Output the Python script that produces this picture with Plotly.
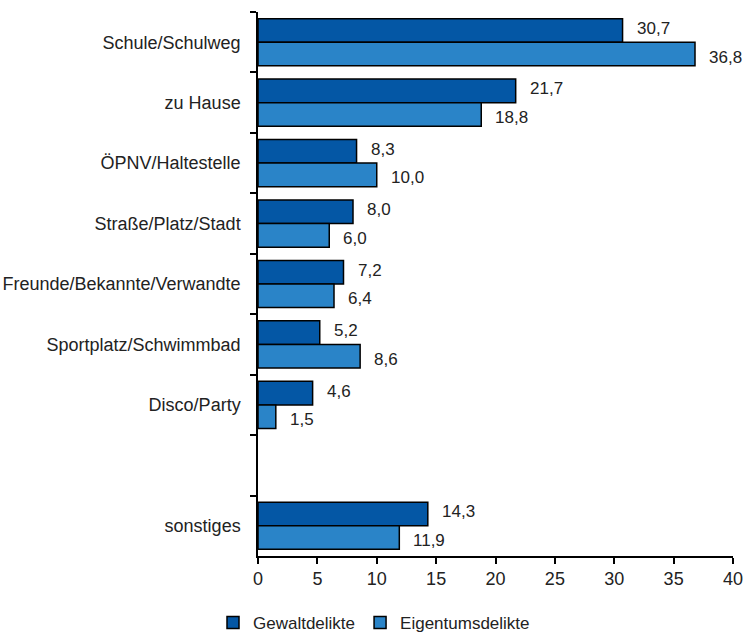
import plotly.graph_objects as go

# Tatorte (leere Kategorie trennt "sonstiges" ab)
categories = ["Schule/Schulweg", "zu Hause", "ÖPNV/Haltestelle", "Straße/Platz/Stadt",
              "Freunde/Bekannte/Verwandte", "Sportplatz/Schwimmbad", "Disco/Party", " ", "sonstiges"]
gewalt = [30.7, 21.7, 8.3, 8.0, 7.2, 5.2, 4.6, None, 14.3]
eigentum = [36.8, 18.8, 10.0, 6.0, 6.4, 8.6, 1.5, None, 11.9]
x_ticks = [0, 5, 10, 15, 20, 25, 30, 35, 40]

FONT = "Liberation Sans, Arial, sans-serif"
TXT = "#222222"
BARGAP = 0.22

fig = go.Figure()
fig.add_trace(go.Bar(y=categories, x=gewalt, name="Gewaltdelikte", orientation="h",
                     marker=dict(color="#0457a5", line=dict(color="#000000", width=1.5))))
fig.add_trace(go.Bar(y=categories, x=eigentum, name="Eigentumsdelikte", orientation="h",
                     marker=dict(color="#2a84c8", line=dict(color="#000000", width=1.5))))

# Wertebeschriftungen rechts neben den Balken
half = (1 - BARGAP) / 4
for i, (g, e) in enumerate(zip(gewalt, eigentum)):
    for val, off, ys in ((g, -half, -2), (e, half, 3)):
        if val is None:
            continue
        fig.add_annotation(x=val, y=i + off, xref="x", yref="y",
                           text=f"{val:.1f}".replace(".", ","), showarrow=False,
                           xanchor="left", xshift=12, yshift=-ys,
                           font=dict(family=FONT, size=17, color=TXT))

fig.update_layout(
    width=748, height=641,
    margin=dict(l=258, r=15, t=12, b=85, autoexpand=False),
    paper_bgcolor="white", plot_bgcolor="white",
    barmode="group", bargap=BARGAP, bargroupgap=0,
    separators=",.",
    font=dict(family=FONT, size=17, color=TXT),
    showlegend=True,
    legend=dict(orientation="h", xref="container", yref="container",
                x=0.5, xanchor="center", y=-0.008, yanchor="bottom",
                font=dict(family=FONT, size=17, color=TXT),
                itemwidth=30, tracegroupgap=0),
)
fig.update_xaxes(range=[0, 40], tickvals=x_ticks, showgrid=False, zeroline=False,
                 showline=True, linecolor="#000000", linewidth=1.5,
                 ticks="outside", ticklen=6, tickcolor="#000000", tickwidth=1.5,
                 tickfont=dict(family=FONT, size=18, color=TXT))
fig.update_yaxes(categoryorder="array", categoryarray=categories, autorange="reversed",
                 showgrid=False, zeroline=False, showline=True, linecolor="#000000", linewidth=1.5,
                 ticks="outside", ticklen=6, tickcolor="#000000", tickwidth=1.5,
                 tickson="boundaries", ticklabelstandoff=12,
                 tickfont=dict(family=FONT, size=18, color=TXT))

fig.write_html("out.html")
